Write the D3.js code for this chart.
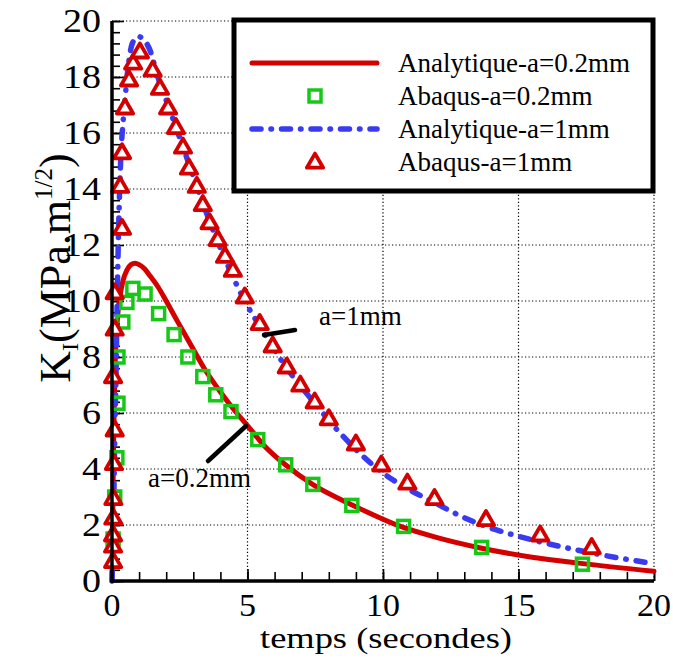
<!DOCTYPE html>
<html><head><meta charset="utf-8">
<script src="https://cdn.jsdelivr.net/npm/d3@7"></script>
<style>body{margin:0;background:#fff}</style>
</head><body><svg id="c" width="673" height="660"></svg>
<script>
// Analytique a=0.2mm
const tA02 = [0, 0.03, 0.06, 0.1, 0.15, 0.22, 0.3, 0.4, 0.55, 0.7, 0.85, 1.0, 1.2, 1.4, 1.7, 2.0, 2.4, 2.9, 3.4, 4.0, 4.6, 5.0, 5.6, 6.4, 7.4, 8.9, 10.7, 12.0, 13.6, 15.5, 17.3, 20];
const KA02 = [0, 2.5, 5.0, 7.2, 8.6, 9.6, 10.2, 10.7, 11.1, 11.3, 11.35, 11.3, 11.15, 10.9, 10.5, 10.0, 9.3, 8.45, 7.6, 6.75, 6.0, 5.55, 4.85, 4.15, 3.45, 2.7, 1.93, 1.55, 1.18, 0.85, 0.63, 0.35];
// Analytique a=1mm
const tA1 = [0, 0.05, 0.1, 0.15, 0.2, 0.25, 0.3, 0.35, 0.4, 0.48, 0.6, 0.75, 0.97, 1.15, 1.4, 1.66, 2.14, 2.62, 3.13, 3.6, 4.17, 4.9, 5.45, 6.45, 7.48, 8.4, 9.94, 10.9, 11.9, 12.8, 13.8, 14.8, 15.8, 17.7, 20];
const KA1 = [0, 2.0, 5.0, 7.5, 10.5, 12.8, 14.5, 15.6, 16.3, 17.2, 18.4, 19.2, 19.45, 19.35, 18.96, 18.1, 16.8, 15.5, 14.1, 12.85, 11.5, 10.0, 9.1, 7.6, 6.35, 5.3, 3.9, 3.3, 2.8, 2.35, 1.95, 1.65, 1.4, 1.0, 0.62];
// Abaqus a=0.2mm
const sqT = [0.04, 0.1, 0.18, 0.22, 0.22, 0.4, 0.55, 0.77, 1.22, 1.72, 2.29, 2.8, 3.35, 3.83, 4.39, 5.38, 6.41, 7.41, 8.85, 10.76, 13.64, 17.36];
const sqK = [1.5, 3.0, 4.4, 6.35, 8.0, 9.25, 9.95, 10.45, 10.25, 9.55, 8.8, 8.0, 7.3, 6.65, 6.05, 5.05, 4.15, 3.45, 2.7, 1.95, 1.2, 0.6];
// Abaqus a=1mm
const triT = [0.04, 0.04, 0.04, 0.05, 0.05, 0.07, 0.1, 0.04, 0.1, 0.1, 0.37, 0.3, 0.37, 0.48, 0.63, 0.78, 1.03, 1.5, 1.77, 2.07, 2.36, 2.62, 2.84, 3.13, 3.35, 3.6, 3.9, 4.17, 4.46, 4.9, 5.45, 5.93, 6.45, 6.95, 7.48, 8.0, 9.0, 9.94, 10.9, 11.9, 13.8, 15.8, 17.7];
const triK = [0.7, 1.25, 1.65, 2.25, 2.95, 4.2, 5.4, 7.3, 9.0, 10.3, 12.6, 14.1, 15.3, 16.9, 17.9, 18.5, 18.9, 18.25, 17.6, 16.9, 16.2, 15.5, 14.75, 14.1, 13.45, 12.8, 12.2, 11.6, 11.1, 10.15, 9.2, 8.4, 7.65, 7.0, 6.4, 5.8, 4.9, 4.15, 3.5, 2.95, 2.2, 1.65, 1.2];

const xTicks = [0, 5, 10, 15, 20];
const yTicks = [0, 2, 4, 6, 8, 10, 12, 14, 16, 18, 20];
const legendLabels = ["Analytique-a=0.2mm", "Abaqus-a=0.2mm", "Analytique-a=1mm", "Abaqus-a=1mm"];

const FONT = "Liberation Serif, Tinos, Times New Roman, Times, Noto Serif, DejaVu Serif, serif";
const RED = "#d40000", GREEN = "#16c816", BLUE = "#3a3af0";
const svg = d3.select("#c");
const x = d3.scaleLinear().domain([0, 20]).range([112, 654]);
const y = d3.scaleLinear().domain([0, 20]).range([581, 21]);
const txt = (sel) => sel.append("text").attr("font-family", FONT).attr("fill", "#000");

// grid
const g = svg.append("g");
g.selectAll(".gx").data(xTicks.slice(1)).join("line")
  .attr("x1", d => x(d)).attr("x2", d => x(d)).attr("y1", y(0)).attr("y2", y(20))
  .attr("stroke", "#000").attr("stroke-width", 1.2).attr("stroke-dasharray", "1.2,2.3");
g.selectAll(".gy").data(yTicks.slice(1)).join("line")
  .attr("y1", d => y(d)).attr("y2", d => y(d)).attr("x1", x(0)).attr("x2", x(20))
  .attr("stroke", "#000").attr("stroke-width", 1.2).attr("stroke-dasharray", "1.2,2.3");

// axes with inward ticks
const xAxisMinor = d3.axisTop(x).tickValues(d3.range(0, 21, 1)).tickSize(9).tickFormat("");
const xAxisMajor = d3.axisTop(x).tickValues(xTicks).tickSize(12).tickFormat("");
const yAxisMinor = d3.axisRight(y).tickValues(d3.range(0, 20.01, 0.4)).tickSize(8).tickFormat("");
const yAxisMajor = d3.axisRight(y).tickValues(yTicks).tickSize(12).tickFormat("");
[[xAxisMinor, `translate(0,${y(0)})`], [xAxisMajor, `translate(0,${y(0)})`],
 [yAxisMinor, `translate(${x(0)},0)`], [yAxisMajor, `translate(${x(0)},0)`]].forEach(([ax, tr]) => {
  const a = svg.append("g").attr("transform", tr).call(ax);
  a.select(".domain").remove();
  a.selectAll("line").attr("stroke", "#000").attr("stroke-width", 1.6);
});

// lines
const line = d3.line().x(d => x(d[0])).y(d => y(d[1])).curve(d3.curveMonotoneX);
svg.append("path").datum(tA02.map((t, i) => [t, KA02[i]])).attr("d", line)
  .attr("fill", "none").attr("stroke", RED).attr("stroke-width", 5).attr("stroke-linecap", "round");
svg.append("path").datum(tA1.map((t, i) => [t, KA1[i]])).attr("d", line)
  .attr("fill", "none").attr("stroke", BLUE).attr("stroke-width", 5.5).attr("stroke-linecap", "round")
  .attr("stroke-dasharray", "9,10,0.5,10");

// markers
const sq = 12;
svg.append("g").selectAll("rect").data(sqT.map((t, i) => [t, sqK[i]])).join("rect")
  .attr("x", d => x(d[0]) - sq / 2).attr("y", d => y(d[1]) - sq / 2).attr("width", sq).attr("height", sq)
  .attr("fill", "none").attr("stroke", GREEN).attr("stroke-width", 3.5);
const tri = d3.symbol().type(d3.symbolTriangle).size(115);
svg.append("g").selectAll("path").data(triT.map((t, i) => [t, triK[i]])).join("path")
  .attr("d", tri).attr("transform", d => `translate(${x(d[0])},${y(d[1]) + 1})`)
  .attr("fill", "#fff").attr("stroke", RED).attr("stroke-width", 3.8).attr("stroke-linejoin", "round");

// axis lines
svg.append("line").attr("x1", x(0)).attr("x2", x(0)).attr("y1", y(20)).attr("y2", y(0) + 1.5)
  .attr("stroke", "#000").attr("stroke-width", 3.5);
svg.append("line").attr("x1", x(0) - 1.5).attr("x2", x(20)).attr("y1", y(0)).attr("y2", y(0))
  .attr("stroke", "#000").attr("stroke-width", 3.5);

// tick labels
yTicks.forEach(d => {
  txt(svg).attr("x", 101).attr("y", y(d) + 11).attr("text-anchor", "end")
    .attr("font-size", 33).attr("textLength", String(d).length * 19).attr("lengthAdjust", "spacingAndGlyphs").text(d);
});
xTicks.forEach(d => {
  txt(svg).attr("x", x(d)).attr("y", 616).attr("text-anchor", "middle")
    .attr("font-size", 31).attr("textLength", String(d).length * 17).attr("lengthAdjust", "spacingAndGlyphs").text(d);
});

// axis titles
txt(svg).attr("x", x(10) + 3).attr("y", 648).attr("text-anchor", "middle")
  .attr("font-size", 29).attr("textLength", 252).attr("lengthAdjust", "spacingAndGlyphs").text("temps (secondes)");
const yl = txt(svg).attr("transform", "translate(70,268) rotate(-90)")
  .attr("text-anchor", "middle").attr("font-size", 44);
yl.append("tspan").text("K");
yl.append("tspan").attr("font-size", 24).attr("dy", 8).text("I");
yl.append("tspan").attr("dy", -8).text("(MPa.m");
yl.append("tspan").attr("font-size", 25).attr("dy", -18).text("1/2");
yl.append("tspan").attr("dy", 18).text(")");

// legend
svg.append("rect").attr("x", 234).attr("y", 20).attr("width", 419).attr("height", 171)
  .attr("fill", "#fff").attr("stroke", "#000").attr("stroke-width", 5);
const rowsY = [63, 96, 129, 162];
legendLabels.forEach((lab, i) => {
  txt(svg).attr("x", 398).attr("y", rowsY[i] + 9).attr("font-size", 27).text(lab);
});
svg.append("line").attr("x1", 252).attr("x2", 377).attr("y1", rowsY[0]).attr("y2", rowsY[0])
  .attr("stroke", RED).attr("stroke-width", 5).attr("stroke-linecap", "round");
svg.append("rect").attr("x", 315 - sq / 2).attr("y", rowsY[1] - sq / 2).attr("width", sq).attr("height", sq)
  .attr("fill", "none").attr("stroke", GREEN).attr("stroke-width", 3.5);
svg.append("line").attr("x1", 252).attr("x2", 377).attr("y1", rowsY[2]).attr("y2", rowsY[2])
  .attr("stroke", BLUE).attr("stroke-width", 5.5).attr("stroke-linecap", "round").attr("stroke-dasharray", "9,10,0.5,10");
svg.append("path").attr("d", tri).attr("transform", `translate(315,${rowsY[3] + 1})`)
  .attr("fill", "#fff").attr("stroke", RED).attr("stroke-width", 3.8).attr("stroke-linejoin", "round");

// annotations
svg.append("line").attr("x1", 264).attr("y1", 335).attr("x2", 295).attr("y2", 330)
  .attr("stroke", "#000").attr("stroke-width", 4.5).attr("stroke-linecap", "round");
txt(svg).attr("x", 319).attr("y", 325).attr("font-size", 27).text("a=1mm");
svg.append("line").attr("x1", 208).attr("y1", 461).attr("x2", 246).attr("y2", 426)
  .attr("stroke", "#000").attr("stroke-width", 4.5).attr("stroke-linecap", "round");
txt(svg).attr("x", 148).attr("y", 487).attr("font-size", 27).text("a=0.2mm");
</script></body></html>
